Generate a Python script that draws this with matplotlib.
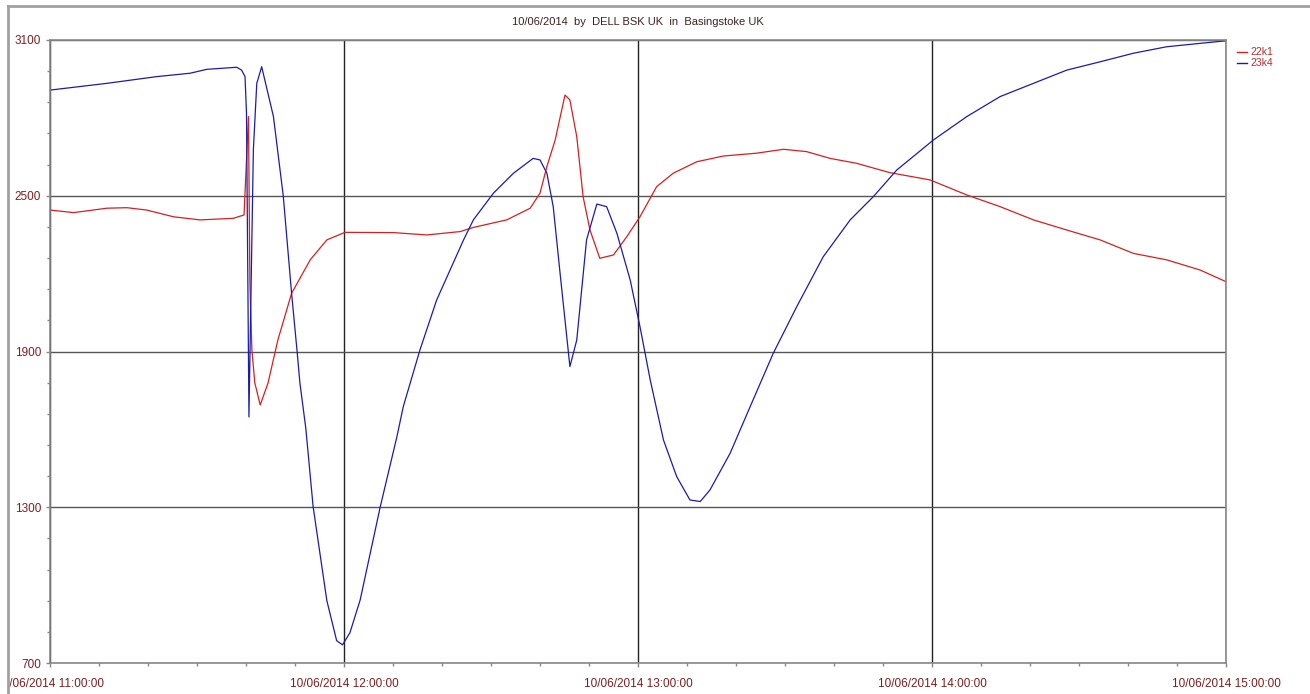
import matplotlib
matplotlib.use("Agg")
import matplotlib.pyplot as plt
import matplotlib.dates as mdates
from matplotlib.lines import Line2D
from matplotlib.patches import Rectangle
import pandas as pd

# minutes after 10/06/2014 11:00:00
t_22k1 = [0, 4.8, 11.6, 15.7, 19.7, 25.2, 30.6, 37.4, 39.6, 40.5, 40.8, 41.2, 41.8, 42.9,
          44.5, 46.5, 49.3, 53.1, 56.5, 60.2, 70.1, 76.9, 83.7, 86.4, 93.2, 98.0, 100.0,
          101.4, 103.1, 105.1, 106.1, 107.5, 108.8, 110.2, 112.2, 115.0, 117.7, 120.4,
          123.8, 127.2, 132.0, 137.4, 144.2, 149.7, 154.4, 159.2, 164.6, 171.4, 179.6,
          187.1, 193.9, 200.7, 207.5, 214.3, 221.1, 227.9, 234.7, 240.0]
v_22k1 = [2445, 2435, 2452, 2454, 2445, 2419, 2407, 2413, 2426, 2805, 2164, 1906, 1779, 1694,
          1779, 1944, 2124, 2253, 2330, 2359, 2358, 2349, 2362, 2378, 2407, 2452, 2510,
          2612, 2715, 2888, 2869, 2728, 2496, 2368, 2259, 2272, 2342, 2419,
          2535, 2587, 2631, 2653, 2664, 2679, 2670, 2644, 2625, 2589, 2561,
          2503, 2458, 2407, 2368, 2330, 2278, 2253, 2214, 2169]

t_23k4 = [0, 11.6, 21.8, 28.6, 32.0, 38.1, 39.1, 39.8, 40.1, 40.6, 41.5, 42.2, 43.2, 45.6,
          47.6, 49.3, 50.4, 51.0, 52.2, 53.7, 56.5, 58.5, 59.7, 61.2, 63.3, 67.4, 70.8,
          72.1, 75.5, 78.9, 84.4, 86.4, 90.5, 94.6, 98.6, 100.0, 101.4, 102.7, 104.1,
          106.1, 107.5, 109.5, 111.6, 113.6, 115.7, 118.4, 120.4, 122.5, 125.2, 127.9,
          130.6, 132.7, 134.7, 138.8, 142.9, 147.6, 152.4, 157.8, 163.3, 168.0, 172.8,
          180.3, 187.1, 193.9, 200.7, 207.5, 214.3, 221.1, 227.9, 234.7, 240.0]
v_23k4 = [2907, 2933, 2959, 2972, 2987, 2995, 2984, 2959, 2819, 1648, 2676, 2933, 2997, 2805,
          2500, 2125, 1906, 1779, 1605, 1302, 940, 786, 770, 816, 943, 1302, 1572,
          1688, 1906, 2098, 2330, 2407, 2510, 2587, 2644, 2638, 2587, 2458, 2201,
          1842, 1944, 2330, 2468, 2458, 2355, 2176, 1996, 1790, 1559, 1418,
          1328, 1322, 1367, 1508, 1688, 1893, 2073, 2265, 2407, 2496, 2599,
          2715, 2805, 2882, 2933, 2984, 3016, 3049, 3074, 3087, 3097]

y_major = [700, 1300, 1900, 2500, 3100]

start = pd.Timestamp("2014-06-10 11:00:00")
x1 = start + pd.to_timedelta(t_22k1, unit="min")
x2 = start + pd.to_timedelta(t_23k4, unit="min")

label_col = "#7a2020"
fig = plt.figure(figsize=(13.1, 6.94), dpi=100)
ax = fig.add_axes([50 / 1310, 1 - 663 / 694, 1176 / 1310, 623 / 694])

ax.plot(x1, v_22k1, color="#d42020", lw=0.9)
ax.plot(x2, v_23k4, color="#1c1ca8", lw=0.9)

ax.set_xlim(start, start + pd.Timedelta(hours=4))
ax.set_ylim(700, 3100)
ax.set_yticks(y_major)
ax.set_yticks(range(700, 3101, 120), minor=True)
ax.xaxis.set_major_locator(mdates.HourLocator())
ax.xaxis.set_minor_locator(mdates.MinuteLocator(byminute=[10, 20, 30, 40, 50]))
ax.xaxis.set_major_formatter(mdates.DateFormatter("%d/%m/%Y %H:%M:%S"))

ax.grid(True, axis="y", which="major", color="#555555", lw=1)
ax.grid(True, axis="x", which="major", color="#222222", lw=1)
for s in ax.spines.values():
    s.set_color("#888888")
    s.set_linewidth(1.2)

ax.tick_params(axis="both", which="major", labelsize=8.5, colors="#888888",
               labelcolor=label_col, length=3, width=1)
ax.tick_params(axis="both", which="minor", colors="#888888", length=2, width=1)
ax.tick_params(axis="x", pad=8)
for lbl in ax.get_xticklabels() + ax.get_yticklabels():
    lbl.set_fontfamily("Liberation Sans")

fig.text(638 / 1310, 1 - 22 / 694, "10/06/2014  by  DELL BSK UK  in  Basingstoke UK",
         ha="center", va="center", fontsize=8, color="#402020", family="Liberation Sans")

handles = [Line2D([], [], color="#d42020", lw=1), Line2D([], [], color="#1c1ca8", lw=1)]
leg = fig.legend(handles, ["22k1", "23k4"], loc="upper left",
                 bbox_to_anchor=(1232 / 1310, 1 - 42 / 694), frameon=False,
                 fontsize=7.5, handlelength=0.9, handletextpad=0.4,
                 labelspacing=0.1, borderpad=0)
for txt in leg.get_texts():
    txt.set_color("#b03030")
    txt.set_fontfamily("Liberation Sans")

# outer frame of the original window, hiding what lies left of it
fig.add_artist(Rectangle((0, 0), 8 / 1310, 1, transform=fig.transFigure,
                         facecolor="white", edgecolor="none", zorder=5))
fig.add_artist(Line2D([8 / 1310, 1], [1 - 6 / 694, 1 - 6 / 694], color="#a0a0a0", lw=2,
                      transform=fig.transFigure, zorder=6))
fig.add_artist(Line2D([8 / 1310, 8 / 1310], [0, 1 - 6 / 694], color="#a0a0a0", lw=2,
                      transform=fig.transFigure, zorder=6))

fig.savefig("out.png", dpi=100)
